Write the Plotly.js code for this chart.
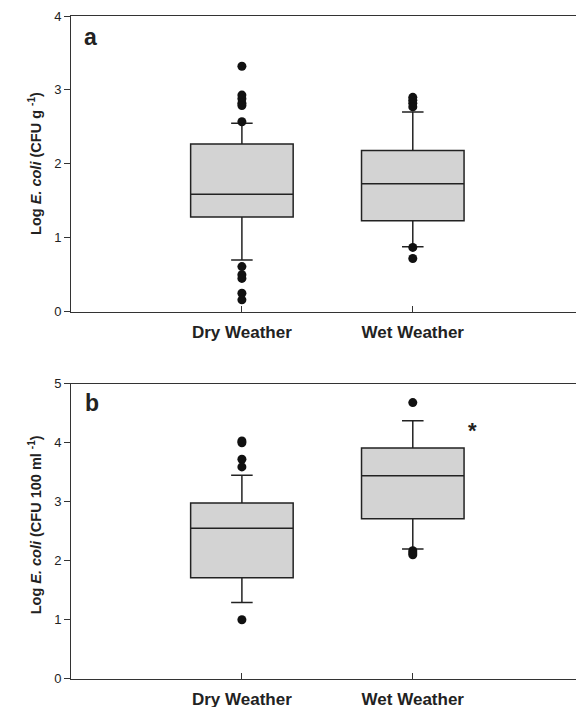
<!DOCTYPE html>
<html>
<head>
<meta charset="utf-8">
<script src="https://cdn.plot.ly/plotly-3.0.1.min.js"></script>
<style>html,body{margin:0;padding:0;background:#fff;}#chart{width:576px;height:707px;}</style>
</head>
<body>
<div id="chart"></div>
<script>
// ---- data ----
const categories = ['Dry Weather', 'Wet Weather'];

// panel a : Log E. coli (CFU g-1)
const aQ1 = [1.28, 1.23];
const aMedian = [1.59, 1.73];
const aQ3 = [2.27, 2.18];
const aLowerWhisker = [0.70, 0.88];
const aUpperWhisker = [2.55, 2.70];
const aDryOutliers = [3.32, 2.93, 2.88, 2.82, 2.79, 2.57, 0.61, 0.50, 0.45, 0.25, 0.16];
const aWetOutliers = [2.90, 2.86, 2.82, 2.77, 0.87, 0.72];

// panel b : Log E. coli (CFU 100 ml-1)
const bQ1 = [1.71, 2.71];
const bMedian = [2.55, 3.44];
const bQ3 = [2.98, 3.91];
const bLowerWhisker = [1.29, 2.20];
const bUpperWhisker = [3.45, 4.37];
const bDryOutliers = [4.03, 4.00, 3.72, 3.59, 1.00];
const bWetOutliers = [4.68, 2.17, 2.13, 2.10];

const yTicksA = [0, 1, 2, 3, 4];
const yTicksB = [0, 1, 2, 3, 4, 5];

// ---- styling ----
const FONT = 'Liberation Sans, Arial, Helvetica, sans-serif';
const INK = '#222222';
const FILL = '#d3d3d3';

function boxTrace(q1, med, q3, lo, hi, xa, ya) {
  return {
    type: 'box', x: categories, q1: q1, median: med, q3: q3,
    lowerfence: lo, upperfence: hi, width: 0.6, whiskerwidth: 0.21,
    fillcolor: FILL, line: {color: INK, width: 1.5},
    boxpoints: false, xaxis: xa, yaxis: ya, showlegend: false, hoverinfo: 'skip'
  };
}
function outlierTrace(cat, vals, xa, ya) {
  return {
    type: 'scatter', mode: 'markers', x: vals.map(() => cat), y: vals,
    marker: {color: '#111', size: 9}, xaxis: xa, yaxis: ya, showlegend: false, hoverinfo: 'skip'
  };
}

const data = [
  boxTrace(aQ1, aMedian, aQ3, aLowerWhisker, aUpperWhisker, 'x', 'y'),
  outlierTrace(categories[0], aDryOutliers, 'x', 'y'),
  outlierTrace(categories[1], aWetOutliers, 'x', 'y'),
  boxTrace(bQ1, bMedian, bQ3, bLowerWhisker, bUpperWhisker, 'x2', 'y2'),
  outlierTrace(categories[0], bDryOutliers, 'x2', 'y2'),
  outlierTrace(categories[1], bWetOutliers, 'x2', 'y2')
];

const H = 707;
function xAxis(anchor) {
  return {
    anchor: anchor, domain: [0, 1], type: 'category', categoryorder: 'array', categoryarray: categories,
    range: [-1, 1.955], showline: true, mirror: true, linecolor: '#333', linewidth: 1,
    ticks: 'inside', ticklen: 6, tickcolor: '#333', showgrid: false, zeroline: false,
    tickfont: {family: FONT, size: 17, color: INK, weight: 'bold'}, ticklabelstandoff: 5
  };
}
function yAxis(anchor, dom, rng, tv) {
  return {
    anchor: anchor, domain: dom, range: rng, tickvals: tv, ticktext: tv.map(String),
    showline: true, linecolor: '#333', linewidth: 1, ticks: 'outside', ticklen: 6, tickcolor: '#333',
    showgrid: false, zeroline: false, tickfont: {family: FONT, size: 13, color: INK}
  };
}

const layout = {
  width: 576, height: 707,
  margin: {l: 71, r: 0, t: 0, b: 0},
  paper_bgcolor: '#fff', plot_bgcolor: '#fff',
  xaxis: xAxis('y'),
  yaxis: yAxis('x', [1 - 311.7 / H, 1 - 16 / H], [0, 4], yTicksA),
  xaxis2: xAxis('y2'),
  yaxis2: yAxis('x2', [1 - 678.7 / H, 1 - 383.7 / H], [0, 5], yTicksB),
  annotations: [
    {text: '<b>Log <i>E. coli</i> (CFU g <sup>-1</sup>)</b>', textangle: -90, xref: 'paper', x: -0.093,
     yref: 'y domain', y: 0.5, showarrow: false, font: {family: FONT, size: 14.5, color: INK}},
    {text: '<b>Log <i>E. coli</i> (CFU 100 ml <sup>-1</sup>)</b>', textangle: -90, xref: 'paper', x: -0.093,
     yref: 'y2 domain', y: 0.52, showarrow: false, font: {family: FONT, size: 14.5, color: INK}},
    {text: '<b>a</b>', xref: 'x', x: -0.883, yref: 'y', y: 3.72, showarrow: false,
     font: {family: FONT, size: 23, color: INK}},
    {text: '<b>b</b>', xref: 'x2', x: -0.877, yref: 'y2', y: 4.67, showarrow: false,
     font: {family: FONT, size: 23, color: INK}},
    {text: '<b>*</b>', xref: 'x2', x: 1.35, yref: 'y2', y: 4.2, showarrow: false,
     font: {family: FONT, size: 22, color: INK}}
  ]
};

Plotly.newPlot('chart', data, layout, {staticPlot: true, displayModeBar: false});
</script>
</body>
</html>
